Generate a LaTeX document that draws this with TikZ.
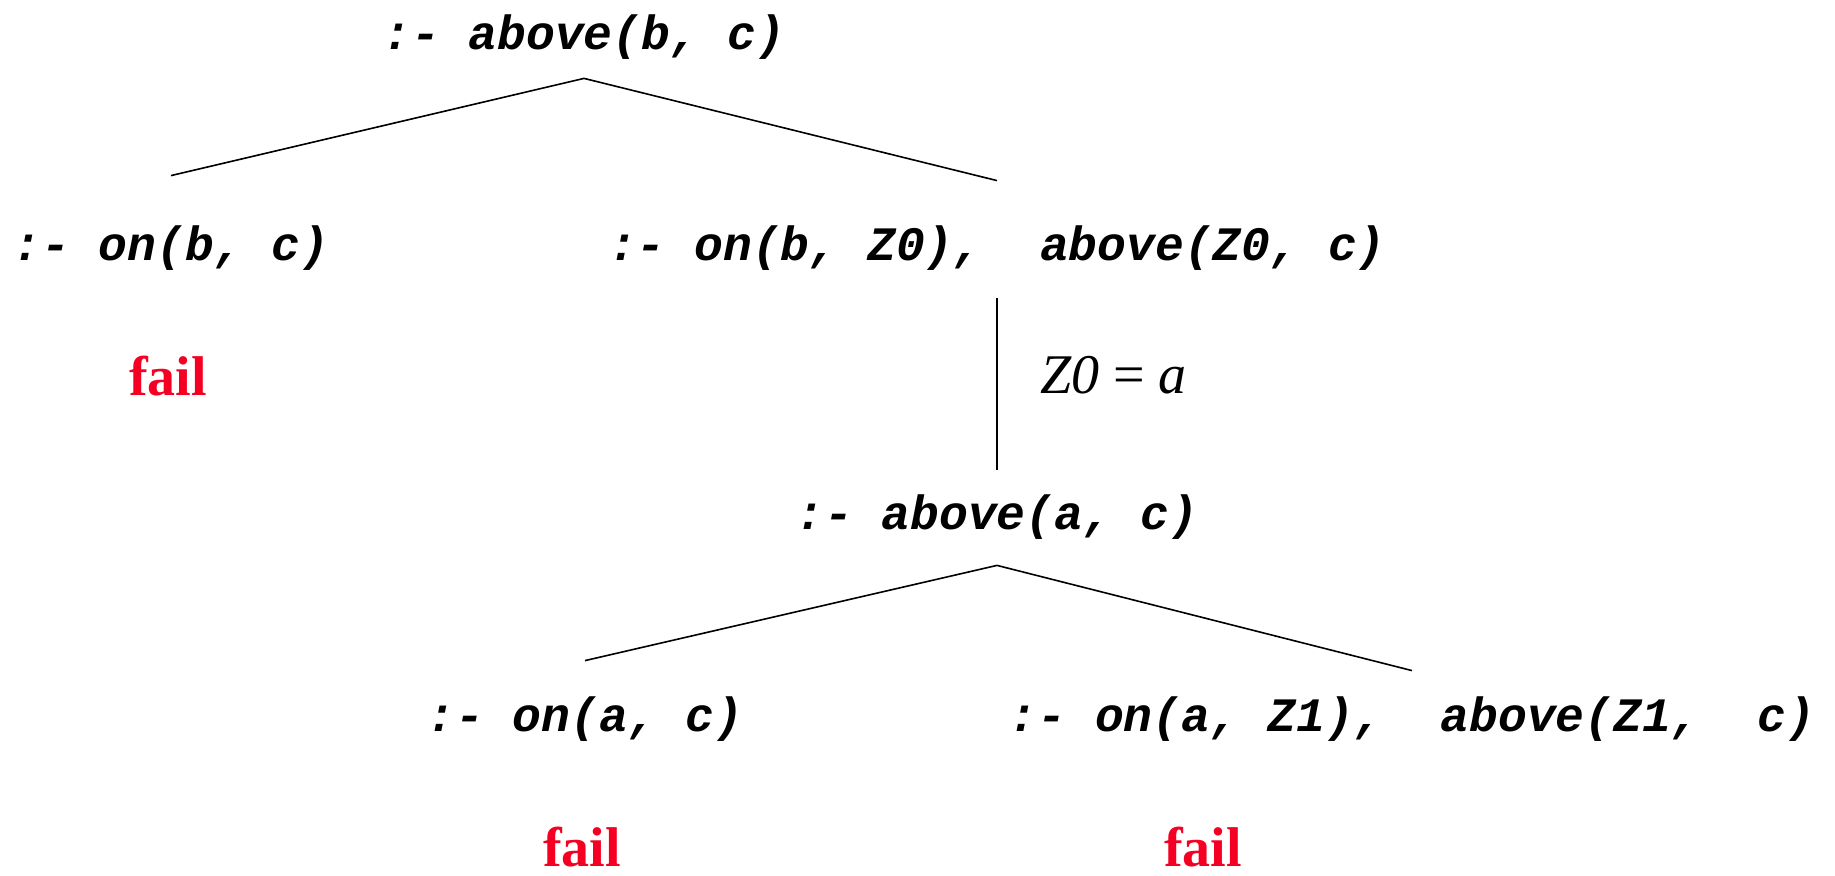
\documentclass[tikz,border=0pt]{standalone}
\usepackage{fontspec}
\usepackage{tikz}
\usepackage{xcolor}
\newfontfamily\goalfont{Liberation Mono}
\newfontfamily\failfont{Liberation Serif}
\definecolor{failred}{RGB}{245,0,35}

\begin{document}
\begin{tikzpicture}[x=0.5pt, y=-0.5pt,
    goal/.style={anchor=base, inner sep=0pt, text height=18pt, text depth=6pt, font=\goalfont\fontsize{24}{28}\selectfont\bfseries\itshape},
    fail/.style={anchor=base, inner sep=0pt, text=failred, font=\failfont\fontsize{28}{32}\selectfont\bfseries},
    branch/.style={line width=0.8pt}]

    \useasboundingbox (0,0) rectangle (1835,876);

    % Root goal
    \node[goal] (root) at (584,50) {:- above(b, c)};

    % First resolution step
    \node[goal] (onbc) at (171,261) {:- on(b, c)};
    \node[goal] (onbz) at (997,261) {:- on(b, Z0),\ \ above(Z0, c)};
    \node[fail] (failbc) at (168,396) {fail};

    % After Z0 = a
    \node[goal] (abac) at (997,530) {:- above(a, c)};

    % Second resolution step
    \node[goal] (onac) at (585,731) {:- on(a, c)};
    \node[goal] (onaz) at (1412,731) {:- on(a, Z1),\ \ above(Z1,\ \ c)};
    \node[fail] (failac) at (582,866) {fail};
    \node[fail] (failaz) at (1203,866) {fail};

    % Branches
    \draw[branch] ([yshift=-8pt]root.south) -- ([yshift=24.5pt]onbc.north);
    \draw[branch] ([yshift=-8pt]root.south) -- ([yshift=22pt]onbz.north);
    \draw[line width=1pt] ([yshift=-12.5pt]onbz.south) -- node[pos=0.45, right=21pt, inner sep=0pt, font=\failfont\fontsize{28}{32}\selectfont] (unify) {\textit{Z0} = \textit{a}} ([yshift=12pt]abac.north);
    \draw[branch] ([yshift=-11.5pt]abac.south) -- ([yshift=17pt]onac.north);
    \draw[branch] ([yshift=-11.5pt]abac.south) -- ([yshift=12pt]onaz.north);
\end{tikzpicture}
\end{document}
